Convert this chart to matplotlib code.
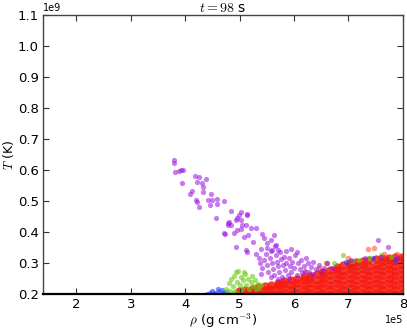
import numpy as np
import matplotlib
matplotlib.use("Agg")
import matplotlib.pyplot as plt

# values: x in units of 1e5 g/cm^3, y in units of 1e9 K
purple_x = [3.79, 3.79, 3.82, 3.88, 3.92, 3.96, 3.95, 4.18, 4.25, 4.21, 4.39, 4.31, 4.33, 4.12, 4.08,
            4.33, 4.47, 4.41, 4.50, 4.58, 4.19, 4.22, 4.25, 4.45, 4.58, 4.71, 4.84, 5.02, 4.99, 5.13,
            4.56, 4.78, 4.84, 4.80, 4.93, 5.02, 5.05, 5.11, 5.20, 5.30, 4.73, 4.90, 4.96, 5.02, 5.08,
            5.15, 5.11, 5.14, 4.93, 5.24, 5.42, 5.45, 5.51, 5.57, 5.63, 5.60, 5.66, 5.70, 4.96, 5.14,
            4.78, 4.71,
            5.30, 5.35, 5.38, 5.40, 5.42, 5.45, 5.48, 5.50, 5.52, 5.55, 5.57, 5.60, 5.62, 5.64, 5.66,
            5.68, 5.70, 5.72, 5.74, 5.76, 5.78, 5.80, 5.82, 5.84, 5.86, 5.88, 5.90, 5.92, 5.95, 5.97,
            6.00, 6.02, 6.05, 6.07, 6.10, 6.12, 6.15, 6.18, 6.20, 6.25, 6.28, 6.32, 6.35, 6.40, 6.45,
            6.50, 6.55, 5.50, 5.65, 5.85, 6.05, 5.95, 5.40, 5.58, 5.70, 5.90, 6.22, 6.35, 6.60, 6.70,
            7.54, 7.72, 7.05, 7.30, 7.60, 7.90]
purple_y = [0.632, 0.622, 0.595, 0.598, 0.602, 0.600, 0.560, 0.581, 0.578, 0.561, 0.570, 0.557, 0.546, 0.533, 0.523,
            0.530, 0.523, 0.505, 0.503, 0.506, 0.505, 0.498, 0.482, 0.488, 0.490, 0.501, 0.469, 0.465, 0.455, 0.458,
            0.447, 0.428, 0.423, 0.433, 0.439, 0.439, 0.423, 0.423, 0.412, 0.412, 0.394, 0.396, 0.406, 0.409, 0.385,
            0.390, 0.342, 0.336, 0.353, 0.369, 0.394, 0.380, 0.364, 0.374, 0.390, 0.342, 0.358, 0.342, 0.444, 0.455,
            0.423, 0.396,
            0.330, 0.318, 0.300, 0.345, 0.285, 0.310, 0.330, 0.295, 0.270, 0.318, 0.340, 0.300, 0.282, 0.262, 0.325,
            0.305, 0.290, 0.270, 0.335, 0.312, 0.255, 0.295, 0.320, 0.278, 0.300, 0.262, 0.315, 0.290, 0.270, 0.305,
            0.285, 0.325, 0.262, 0.300, 0.280, 0.310, 0.268, 0.292, 0.275, 0.300, 0.270, 0.288, 0.265, 0.280, 0.295,
            0.275, 0.285, 0.350, 0.355, 0.340, 0.335, 0.345, 0.265, 0.255, 0.248, 0.248, 0.315, 0.305, 0.300, 0.285,
            0.374, 0.353, 0.310, 0.315, 0.320, 0.318]

green_x = [4.75, 4.80, 4.82, 4.85, 4.88, 4.90, 4.92, 4.95, 4.97, 5.00, 5.02, 5.05, 5.07, 5.10, 5.12,
           5.15, 5.18, 5.20, 5.22, 5.25, 5.28, 5.30, 5.33, 5.36, 5.40, 4.78, 4.87, 5.00, 4.93, 5.08,
           6.89, 7.06, 6.73, 7.38, 7.78, 7.20, 6.60, 7.60]
green_y = [0.215, 0.235, 0.210, 0.250, 0.225, 0.260, 0.210, 0.240, 0.275, 0.228, 0.255, 0.215, 0.245, 0.265, 0.230,
           0.250, 0.218, 0.240, 0.260, 0.225, 0.245, 0.215, 0.232, 0.220, 0.228, 0.205, 0.205, 0.205, 0.270, 0.270,
           0.326, 0.307, 0.301, 0.318, 0.320, 0.310, 0.300, 0.325]

blue_x = [4.45, 4.50, 4.55, 4.60, 4.63, 4.68, 4.70, 4.52, 4.40, 4.75, 7.45, 7.85, 6.95]
blue_y = [0.205, 0.210, 0.203, 0.215, 0.207, 0.212, 0.203, 0.200, 0.202, 0.208, 0.315, 0.310, 0.305]

red_x = [4.98, 4.98,
         5.10, 5.10,
         5.22, 5.22, 5.22,
         5.34, 5.34, 5.34,
         5.46, 5.46, 5.46,
         5.58, 5.58, 5.58,
         5.70, 5.70, 5.70, 5.70,
         5.82, 5.82, 5.82, 5.82,
         5.94, 5.94, 5.94, 5.94,
         6.06, 6.06, 6.06, 6.06,
         6.18, 6.18, 6.18, 6.18, 6.18,
         6.30, 6.30, 6.30, 6.30, 6.30,
         6.42, 6.42, 6.42, 6.42, 6.42,
         6.54, 6.54, 6.54, 6.54, 6.54, 6.54,
         6.66, 6.66, 6.66, 6.66, 6.66, 6.66,
         6.78, 6.78, 6.78, 6.78, 6.78, 6.78, 6.78,
         6.90, 6.90, 6.90, 6.90, 6.90, 6.90, 6.90,
         7.02, 7.02, 7.02, 7.02, 7.02, 7.02, 7.02, 7.02,
         7.14, 7.14, 7.14, 7.14, 7.14, 7.14, 7.14, 7.14,
         7.26, 7.26, 7.26, 7.26, 7.26, 7.26, 7.26, 7.26,
         7.38, 7.38, 7.38, 7.38, 7.38, 7.38, 7.38, 7.38,
         7.50, 7.50, 7.50, 7.50, 7.50, 7.50, 7.50, 7.50,
         7.62, 7.62, 7.62, 7.62, 7.62, 7.62, 7.62, 7.62, 7.62,
         7.74, 7.74, 7.74, 7.74, 7.74, 7.74, 7.74, 7.74, 7.74,
         7.86, 7.86, 7.86, 7.86, 7.86, 7.86, 7.86, 7.86, 7.86,
         7.98, 7.98, 7.98, 7.98, 7.98, 7.98, 7.98, 7.98, 7.98]
red_y = [0.201, 0.210,
         0.205, 0.214,
         0.201, 0.210, 0.218,
         0.205, 0.214, 0.222,
         0.201, 0.214, 0.227,
         0.205, 0.218, 0.231,
         0.201, 0.215, 0.228, 0.236,
         0.205, 0.219, 0.232, 0.241,
         0.201, 0.216, 0.231, 0.245,
         0.205, 0.220, 0.235, 0.250,
         0.201, 0.216, 0.231, 0.245, 0.255,
         0.205, 0.220, 0.235, 0.250, 0.259,
         0.201, 0.216, 0.231, 0.246, 0.264,
         0.205, 0.220, 0.235, 0.250, 0.262, 0.271,
         0.201, 0.216, 0.231, 0.246, 0.261, 0.279,
         0.205, 0.220, 0.235, 0.250, 0.265, 0.278, 0.287,
         0.201, 0.216, 0.231, 0.246, 0.261, 0.276, 0.294,
         0.205, 0.220, 0.235, 0.250, 0.265, 0.280, 0.292, 0.299,
         0.201, 0.216, 0.231, 0.246, 0.261, 0.276, 0.290, 0.303,
         0.205, 0.220, 0.235, 0.250, 0.265, 0.280, 0.294, 0.307,
         0.201, 0.216, 0.231, 0.246, 0.261, 0.276, 0.291, 0.310,
         0.205, 0.220, 0.235, 0.250, 0.265, 0.280, 0.295, 0.313,
         0.201, 0.216, 0.231, 0.246, 0.261, 0.276, 0.291, 0.305, 0.315,
         0.205, 0.220, 0.235, 0.250, 0.265, 0.280, 0.295, 0.309, 0.317,
         0.201, 0.216, 0.231, 0.246, 0.261, 0.276, 0.291, 0.306, 0.319,
         0.205, 0.220, 0.235, 0.250, 0.265, 0.280, 0.295, 0.310, 0.320]

# loose red points sitting above the dense band
stray_red_x = [6.59, 7.35, 7.47, 6.45, 7.00, 7.65, 7.90, 6.20]
stray_red_y = [0.299, 0.347, 0.348, 0.285, 0.315, 0.330, 0.330, 0.270]

title = r'$t = 98$ s'

plt.rcParams['mathtext.fontset'] = 'cm'
plt.rcParams['xtick.direction'] = 'in'
plt.rcParams['ytick.direction'] = 'in'
plt.rcParams['xtick.top'] = True
plt.rcParams['ytick.right'] = True

fig = plt.figure(figsize=(4.07, 3.29), dpi=100)
ax = fig.add_axes([0.106, 0.106, 0.884, 0.848])

# scale back to physical units so the 1e5 / 1e9 offset labels show up
ax.scatter(np.array(red_x) * 1e5, np.array(red_y) * 1e9, s=36, c='#f51a10', alpha=0.85, lw=0)
ax.scatter(np.array(stray_red_x) * 1e5, np.array(stray_red_y) * 1e9, s=16, c='#ff3a10', alpha=0.5, lw=0)
ax.scatter(np.array(blue_x) * 1e5, np.array(blue_y) * 1e9, s=14, c='#1a3cff', alpha=0.6, lw=0)
ax.scatter(np.array(green_x) * 1e5, np.array(green_y) * 1e9, s=14, c='#66cc11', alpha=0.6, lw=0)
ax.scatter(np.array(purple_x) * 1e5, np.array(purple_y) * 1e9, s=14, c='#9a10dd', alpha=0.55, lw=0)

ax.set_xlim(1.39e5, 8e5)
ax.set_ylim(0.2e9, 1.1e9)
ax.set_xticks(np.array([2, 3, 4, 5, 6, 7, 8]) * 1e5)
ax.set_yticks(np.array([0.2, 0.3, 0.4, 0.5, 0.6, 0.7, 0.8, 0.9, 1.0, 1.1]) * 1e9)
ax.ticklabel_format(style='sci', axis='both', scilimits=(0, 0))
ax.tick_params(labelsize=9.5, length=4, width=0.8, pad=3, colors='#333333', labelcolor='black')
ax.xaxis.get_offset_text().set_fontsize(7)
ax.yaxis.get_offset_text().set_fontsize(7)

for side in ['left', 'top', 'right']:
    ax.spines[side].set_color('#444444')
    ax.spines[side].set_linewidth(1.0)
ax.spines['bottom'].set_linewidth(1.6)

ax.set_title(title, fontsize=10, pad=2)
ax.set_xlabel(r'$\rho$ (g cm$^{-3}$)', fontsize=9.5, labelpad=0)
ax.set_ylabel(r'$T$ (K)', fontsize=9, labelpad=1)

fig.savefig('out.png', dpi=100)
